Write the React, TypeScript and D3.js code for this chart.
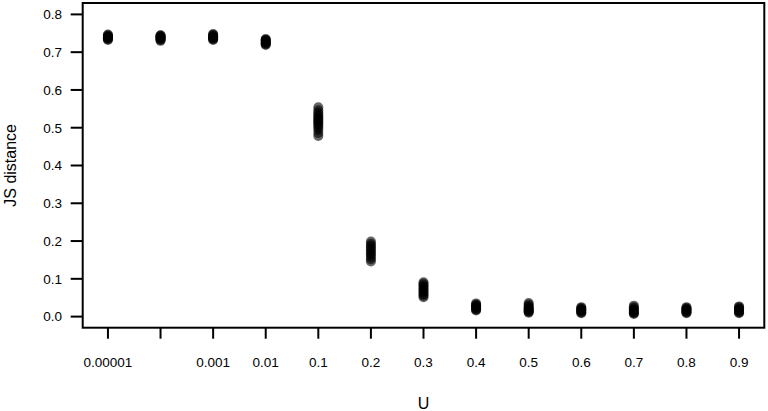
import React from 'react';
import * as d3 from 'd3';

const width = 768;
const height = 411;

// U levels, in plotting order (the 0.0001 label is dropped on the axis)
const uLevels = ['0.00001', '0.0001', '0.001', '0.01', '0.1', '0.2', '0.3', '0.4', '0.5', '0.6', '0.7', '0.8', '0.9'];
const uTickLabels = ['0.00001', '', '0.001', '0.01', '0.1', '0.2', '0.3', '0.4', '0.5', '0.6', '0.7', '0.8', '0.9'];
const yTicks = [0, 0.1, 0.2, 0.3, 0.4, 0.5, 0.6, 0.7, 0.8];

// JS distance replicates per U level
const js00001 = [0.732, 0.734, 0.736, 0.737, 0.739, 0.740, 0.741, 0.743, 0.745, 0.747];
const js0001 = [0.730, 0.732, 0.734, 0.736, 0.738, 0.739, 0.741, 0.742, 0.744, 0.745];
const js001 = [0.732, 0.734, 0.736, 0.738, 0.739, 0.741, 0.742, 0.744, 0.746, 0.748];
const js01 = [0.719, 0.721, 0.723, 0.725, 0.727, 0.728, 0.730, 0.732, 0.733, 0.735];
const js1 = [0.478, 0.486, 0.494, 0.500, 0.505, 0.510, 0.514, 0.518, 0.522, 0.526, 0.530, 0.535, 0.540, 0.546, 0.554];
const js2 = [0.146, 0.152, 0.158, 0.163, 0.168, 0.173, 0.178, 0.183, 0.188, 0.193, 0.199];
const js3 = [0.051, 0.055, 0.059, 0.063, 0.067, 0.071, 0.075, 0.079, 0.083, 0.087, 0.091];
const js4 = [0.016, 0.018, 0.020, 0.022, 0.024, 0.026, 0.028, 0.030, 0.032, 0.035];
const js5 = [0.010, 0.012, 0.014, 0.016, 0.018, 0.020, 0.022, 0.025, 0.028, 0.032, 0.036];
const js6 = [0.009, 0.011, 0.013, 0.015, 0.017, 0.019, 0.021, 0.023, 0.025];
const js7 = [0.007, 0.009, 0.011, 0.013, 0.016, 0.019, 0.022, 0.025, 0.029];
const js8 = [0.009, 0.011, 0.013, 0.015, 0.017, 0.019, 0.021, 0.023, 0.025];
const js9 = [0.009, 0.011, 0.013, 0.015, 0.018, 0.020, 0.022, 0.025, 0.027];

const series = [js00001, js0001, js001, js01, js1, js2, js3, js4, js5, js6, js7, js8, js9];

const box = { left: 82.7, right: 764.3, top: 3, bottom: 327.7 };

const x = d3.scaleLinear().domain([0.52, uLevels.length + 0.48]).range([box.left, box.right]);
const y = d3.scaleLinear().domain([0, 0.8]).range([316.6, 14.4]);

const font = 'Arial, "Liberation Sans", sans-serif';

export default function App() {
  const points = series.flatMap((vals, i) => vals.map(v => ({ i: i + 1, v })));

  return (
    <svg width={width} height={height} style={{ position: 'absolute', left: 0, top: 0, background: '#fff' }}
      fontFamily={font}>
      <rect x={0} y={0} width={width} height={height} fill="#fff" />

      <g>
        {points.map((p, k) => (
          <circle key={k} cx={x(p.i)} cy={y(p.v)} r={5} fill="#000" fillOpacity={0.6} />
        ))}
      </g>

      <rect x={box.left} y={box.top} width={box.right - box.left} height={box.bottom - box.top}
        fill="none" stroke="#000" strokeWidth={2} />

      {/* y axis */}
      <g>
        {yTicks.map(t => (
          <g key={t}>
            <line x1={box.left - 12} x2={box.left} y1={y(t)} y2={y(t)} stroke="#000" strokeWidth={2} />
            <text x={62} y={y(t)} dy="0.36em" textAnchor="end" fontSize={13.5}>{t.toFixed(1)}</text>
          </g>
        ))}
      </g>

      {/* x axis */}
      <g>
        {uLevels.map((u, i) => (
          <g key={u}>
            <line x1={x(i + 1)} x2={x(i + 1)} y1={box.bottom} y2={box.bottom + 11} stroke="#000" strokeWidth={2} />
            <text x={x(i + 1)} y={366.5} textAnchor="middle" fontSize={13.5}>{uTickLabels[i]}</text>
          </g>
        ))}
      </g>

      <text x={(box.left + box.right) / 2} y={408.5} textAnchor="middle" fontSize={16}>U</text>
      <text transform={`translate(16,${(box.top + box.bottom) / 2}) rotate(-90)`} textAnchor="middle" fontSize={16}>JS distance</text>
    </svg>
  );
}
